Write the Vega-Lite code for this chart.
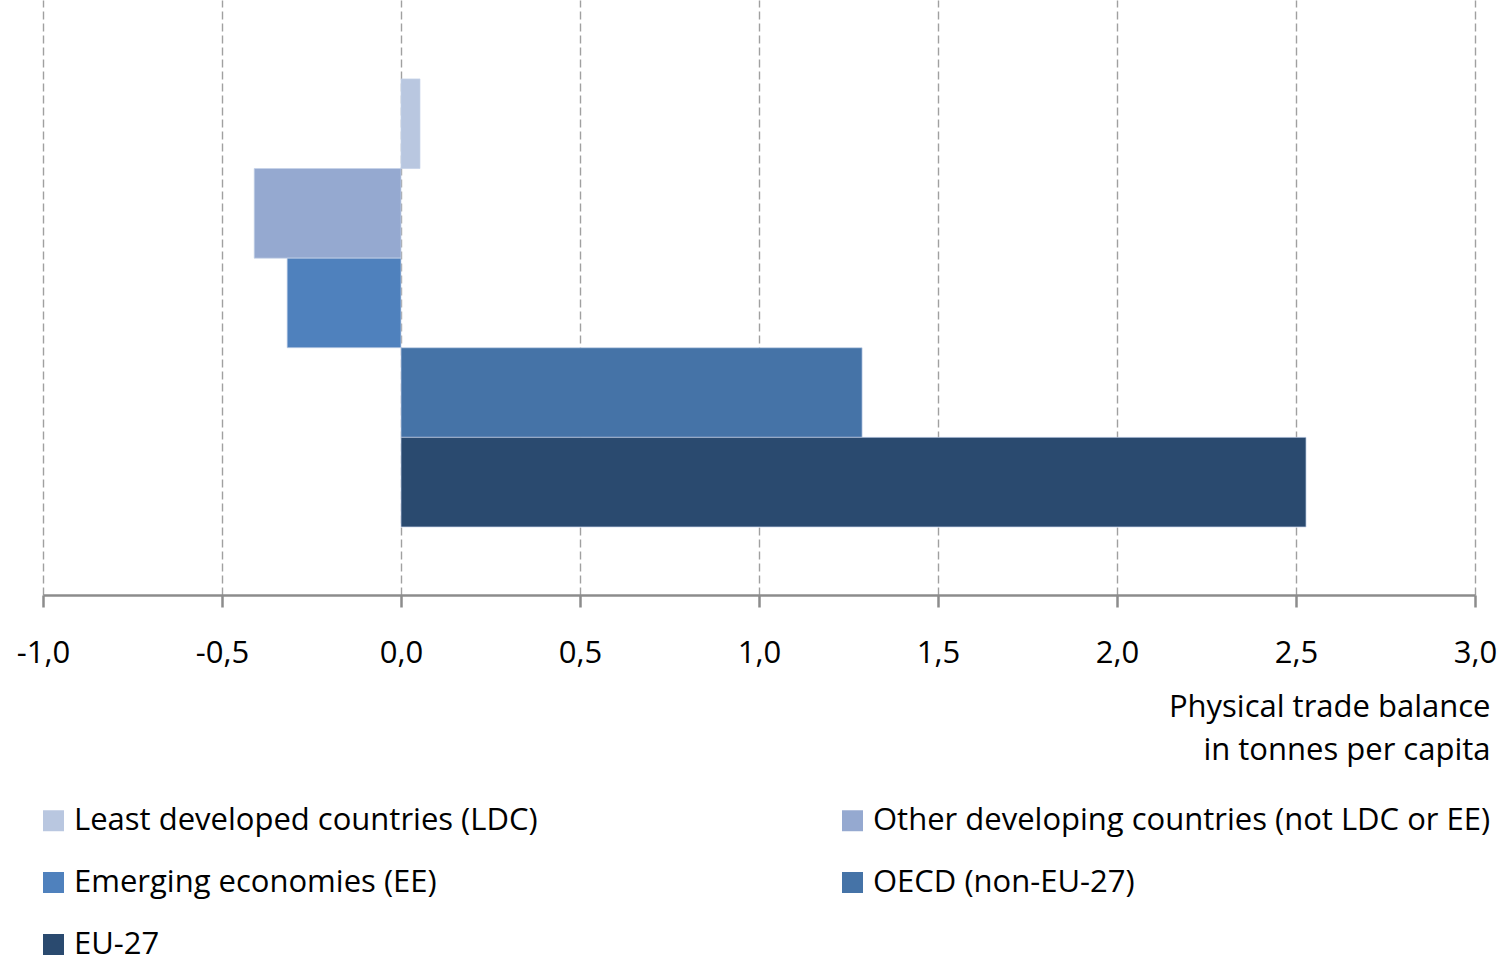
{
  "$schema": "https://vega.github.io/schema/vega-lite/v6.json",
  "width": 1432,
  "height": 595,
  "padding": {"left": 43, "top": 0, "right": 31, "bottom": 362},
  "autosize": {"type": "none"},
  "background": "white",
  "config": {
    "view": {"stroke": null},
    "font": "Open Sans",
    "text": {"font": "Open Sans"}
  },
  "data": {
    "values": [
      {"group": "Least developed countries (LDC)", "value": 0.053},
      {"group": "Other developing  countries (not LDC or EE)", "value": -0.41},
      {"group": "Emerging economies (EE)", "value": -0.318},
      {"group": "OECD (non-EU-27)", "value": 1.288},
      {"group": "EU-27", "value": 2.528}
    ]
  },
  "mark": {"type": "bar", "stroke": "#c4d2e8", "strokeWidth": 1, "strokeOpacity": 0.7},
  "encoding": {
    "y": {
      "field": "group",
      "type": "nominal",
      "sort": null,
      "scale": {"paddingInner": 0, "paddingOuter": 0.82, "align": 0.537},
      "axis": null
    },
    "x": {
      "field": "value",
      "type": "quantitative",
      "scale": {"domain": [-1, 3], "nice": false, "zero": false},
      "axis": {
        "values": [-1, -0.5, 0, 0.5, 1, 1.5, 2, 2.5, 3],
        "labelExpr": "replace(replace(format(datum.value, '.1f'), '.', ','), '\u2212', '-')",
        "grid": true,
        "gridColor": "#a0a0a0",
        "gridDash": [8, 4],
        "gridWidth": 1.4,
        "domainColor": "#8c8c8c",
        "domainWidth": 2.5,
        "tickColor": "#8c8c8c",
        "tickWidth": 2.5,
        "tickSize": 12,
        "labelPadding": 31,
        "labelFontSize": 31,
        "labelColor": "#000000",
        "labelFont": "Open Sans",
        "labelFlush": false,
        "labelOverlap": false,
        "title": ["Physical trade balance", "in tonnes per capita"],
        "titleFont": "Open Sans",
        "titleFontSize": 31,
        "titleFontWeight": "normal",
        "titleColor": "#000000",
        "titleAlign": "right",
        "titleAnchor": "end",
        "titleBaseline": "top",
        "titleLineHeight": 43,
        "titleX": 1447,
        "titleY": 97
      }
    },
    "color": {
      "field": "group",
      "type": "nominal",
      "sort": null,
      "scale": {
        "domain": ["Least developed countries (LDC)", "Emerging economies (EE)", "EU-27", "Other developing  countries (not LDC or EE)", "OECD (non-EU-27)"],
        "range": ["#b9c7e0", "#4f81bd", "#2a4a6f", "#95a9d0", "#4573a7"]
      },
      "legend": {
        "orient": "none",
        "legendX": -5,
        "legendY": 805,
        "columns": 2,
        "columnPadding": 299,
        "rowPadding": 30,
        "title": null,
        "symbolType": "square",
        "symbolSize": 440,
        "symbolStrokeWidth": 0,
        "symbolOpacity": 1,
        "labelFont": "Open Sans",
        "labelFontSize": 31,
        "labelColor": "#000000",
        "labelOffset": 5,
        "labelLimit": 800
      }
    }
  }
}
